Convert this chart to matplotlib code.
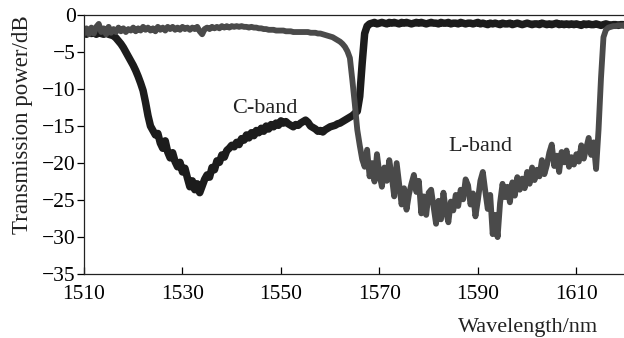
import numpy as np
from matplotlib import pyplot as plt

# wavelength grid, 0.5 nm step
wavelength = np.arange(1510, 1620.25, 0.5)

# C-band filter transmission (dB)
c_band = [
    -2.4, -2.6, -2.3, -2.5, -2.4, -2.6, -2.4, -2.5, -2.6, -2.4, -2.6, -2.7,
    -2.8, -3.1, -3.5, -3.9, -4.4, -5.0, -5.6, -6.2, -6.8, -7.5,
    -8.3, -9.2, -10.2, -11.8, -13.6, -15.0, -15.6, -16.2, -16.0, -17.3,
    -18.0, -17.0, -18.5, -19.3, -18.6, -19.8, -20.5, -19.9, -21.2, -20.7,
    -22.0, -23.2, -22.4, -23.6, -22.8, -24.0, -23.1, -22.2,
    -21.6, -21.9, -20.6, -20.9, -19.7, -19.9, -18.9, -19.2, -18.3, -18.0,
    -17.6, -17.8, -17.2, -17.5, -16.7, -16.9, -16.2, -16.6, -15.9, -16.3,
    -15.6, -15.9, -15.3, -15.7, -15.0, -15.4, -14.8, -15.1, -14.6, -14.9,
    -14.3, -14.6, -14.4, -14.7, -14.9, -15.1, -14.8, -14.9, -14.6, -14.4,
    -14.2, -14.5, -15.0, -15.2, -15.4, -15.7, -15.6, -15.8, -15.5, -15.3,
    -15.1, -15.0, -14.9, -14.7, -14.6, -14.4, -14.2, -14.0, -13.8, -13.6,
    -13.3, -13.0,
    -11.0, -6.5, -2.5, -1.5, -1.2,
    -1.1, -1.0, -1.2, -1.1, -1.0, -1.1, -1.2, -1.0, -1.1, -1.0,
    -1.1, -1.2, -1.0, -1.1, -1.0, -1.1, -1.2, -1.1, -1.0, -1.1,
    -1.0, -1.1, -1.2, -1.1, -1.0, -1.1, -1.1, -1.2, -1.0, -1.1,
    -1.1, -1.0, -1.2, -1.1, -1.1, -1.2, -1.0, -1.1, -1.2, -1.1,
    -1.1, -1.2, -1.1, -1.0, -1.2, -1.1, -1.2, -1.3, -1.1, -1.2,
    -1.1, -1.2, -1.3, -1.1, -1.2, -1.2, -1.1, -1.3, -1.2, -1.1,
    -1.2, -1.3, -1.2, -1.1, -1.2, -1.3, -1.2, -1.2, -1.3, -1.1,
    -1.2, -1.3, -1.2, -1.3, -1.2, -1.1, -1.3, -1.2, -1.3, -1.2,
    -1.3, -1.2, -1.3, -1.2, -1.3, -1.4, -1.2, -1.3, -1.2, -1.3,
    -1.3, -1.2, -1.3, -1.4, -1.3, -1.2, -1.3, -1.4, -1.3, -1.3,
    -1.4, -1.3, -1.3, -1.4,
]

# L-band filter transmission (dB)
l_band = [
    -2.4, -1.8, -2.6, -1.7, -2.5, -1.6, -1.2, -2.3, -1.8, -2.6,
    -1.6, -2.4, -1.9, -2.3, -1.7, -2.2, -1.8, -2.3, -1.9, -2.1,
    -1.7, -2.2, -1.8, -2.1, -1.6, -2.0, -1.7, -2.1, -1.8, -2.2,
    -1.6, -2.0, -1.7, -2.1, -1.6, -1.9, -1.6, -2.0, -1.7, -2.0,
    -1.6,
    -1.9, -1.7, -2.0, -1.7, -1.9, -1.6, -2.2, -2.6, -1.9, -1.7,
    -1.9, -1.6, -1.8, -1.6, -1.8, -1.5, -1.7, -1.5, -1.7, -1.5,
    -1.6, -1.5, -1.6, -1.5, -1.6, -1.6, -1.7, -1.6, -1.7, -1.7,
    -1.8, -1.8, -1.9, -1.9, -2.0, -2.0, -2.0, -2.1, -2.1, -2.1,
    -2.1, -2.2, -2.2, -2.2, -2.3, -2.3, -2.3, -2.3, -2.3, -2.3,
    -2.3, -2.4, -2.4, -2.4, -2.5, -2.5, -2.6, -2.7, -2.8, -2.9,
    -3.0, -3.2, -3.4, -3.6, -3.9, -4.3, -4.9, -5.8, -8.8, -12.0,
    -15.5, -17.6, -19.5,
    -20.5, -18.2, -21.8, -20.0, -22.5, -18.8, -21.5, -23.2, -20.6, -22.4,
    -19.6, -21.8, -24.5, -20.0, -22.8, -25.6, -23.4, -26.3, -24.2, -22.8,
    -21.6, -23.9, -22.4, -26.8, -24.5, -27.0, -24.0, -23.6, -25.9, -28.2,
    -25.1, -27.6, -24.0, -26.5, -28.0, -25.2, -26.4, -24.3, -25.8, -23.6,
    -24.9, -22.2, -23.0, -25.6, -24.1, -27.2, -25.0, -22.4, -21.2, -23.8,
    -26.2, -24.3, -29.6, -27.0, -30.0, -25.4, -22.8, -24.6, -23.2, -25.3,
    -22.6, -24.4, -21.9, -23.6, -22.1, -23.4, -21.2, -22.8, -20.6, -22.3,
    -20.9, -21.8, -19.6, -21.5, -20.3, -18.6, -17.5, -20.4, -19.0, -21.2,
    -18.5, -19.9, -18.3, -20.5, -19.2, -20.2, -18.8, -19.8, -17.6, -19.4,
    -18.0, -16.6, -18.9, -17.2, -20.8, -15.5, -8.5, -3.0, -2.0, -1.7,
    -1.6, -1.5, -1.5, -1.4, -1.4, -1.4, -1.3,
]

x_ticks = [1510, 1530, 1550, 1570, 1590, 1610]
y_ticks = [0, -5, -10, -15, -20, -25, -30, -35]

plt.rcParams["font.family"] = ["Liberation Serif", "DejaVu Serif"]

fig = plt.figure(figsize=(6.24, 3.38), dpi=100)
ax = fig.add_axes([0.1346, 0.189, 0.868, 0.7666])

ax.plot(wavelength, c_band, color="#1c1c1c", lw=5.4, solid_joinstyle="round")
ax.plot(wavelength, l_band, color="#4a4a4a", lw=4.2, solid_joinstyle="round")

ax.set_xlim(1510, 1620)
ax.set_ylim(-35, 0)
ax.set_xticks(x_ticks)
ax.set_yticks(y_ticks)
ax.tick_params(axis="x", direction="in", length=5, width=0.9, pad=8, labelsize=15.5)
ax.tick_params(axis="y", direction="out", length=5, width=0.9, pad=1, labelsize=15.5)
for side in ["left", "bottom", "top"]:
    ax.spines[side].set_linewidth(0.9)
    ax.spines[side].set_color("#222222")
ax.spines["right"].set_visible(False)

ax.text(1546.75, -12.6, "C-band", fontsize=16, ha="center", va="center", color="#222222")
ax.text(1590.5, -17.8, "L-band", fontsize=16, ha="center", va="center", color="#222222")

fig.text(0.846, 0.03, "Wavelength/nm", fontsize=16, ha="center", va="center", color="#222222")
fig.text(0.036, 0.63, "Transmission power/dB", fontsize=16.5, rotation=90,
         ha="center", va="center", color="#222222")

fig.savefig("out.png", dpi=100)
